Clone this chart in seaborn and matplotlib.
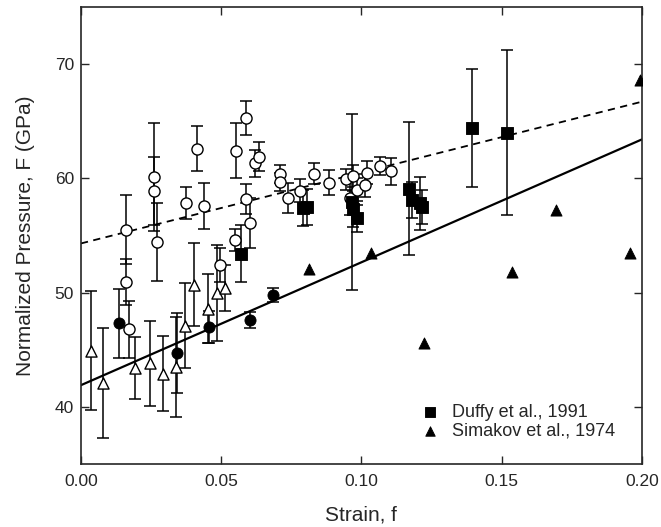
import matplotlib
matplotlib.use("Agg")
import matplotlib.pyplot as plt
import seaborn as sns
import pandas as pd

# Open circles (with error bars)
oc_x = [0.016, 0.016, 0.017, 0.026, 0.026, 0.027, 0.0375, 0.0415, 0.044, 0.0554, 0.059,
        0.062, 0.0636, 0.059, 0.0604, 0.055, 0.0496, 0.071, 0.071, 0.074, 0.078, 0.083,
        0.0886, 0.0946, 0.096, 0.097, 0.0986, 0.1014, 0.102, 0.1068, 0.1107]
oc_y = [55.5, 50.9, 46.8, 60.1, 58.9, 54.4, 57.8, 62.6, 57.6, 62.4, 65.3,
        61.3, 61.9, 58.2, 56.1, 54.6, 52.4, 60.4, 59.7, 58.3, 58.9, 60.4,
        59.6, 59.9, 58.3, 60.2, 59.0, 59.4, 60.5, 61.1, 60.6]
oc_err = [3.0, 2.0, 2.5, 4.7, 3.0, 3.4, 1.4, 2.0, 2.0, 2.4, 1.5,
          1.2, 1.3, 1.3, 2.2, 1.0, 1.5, 0.8, 0.8, 1.3, 1.0, 0.9,
          1.1, 0.9, 1.5, 1.0, 1.0, 1.0, 1.0, 0.8, 1.2]

# Filled circles (with error bars)
fc_x = [0.0136, 0.0343, 0.0457, 0.0604, 0.0686]
fc_y = [47.3, 44.7, 47.0, 47.6, 49.8]
fc_err = [3.0, 3.5, 1.4, 0.7, 0.6]

# Open triangles (with error bars)
ot_x = [0.0036, 0.008, 0.0193, 0.0246, 0.0294, 0.034, 0.037, 0.0404, 0.0454, 0.0485, 0.0514]
ot_y = [44.9, 42.1, 43.4, 43.8, 42.9, 43.5, 47.1, 50.7, 48.6, 50.0, 50.4]
ot_err = [5.2, 4.8, 2.7, 3.7, 3.3, 4.4, 3.7, 3.6, 3.0, 4.2, 2.0]

# Duffy et al., 1991 (filled squares)
fs_x = [0.0571, 0.079, 0.0807, 0.0965, 0.097, 0.0986, 0.1168, 0.118, 0.121, 0.1215, 0.1393, 0.152]
fs_y = [53.4, 57.4, 57.5, 57.9, 57.3, 56.5, 59.1, 58.1, 57.8, 57.5, 64.4, 64.0]
fs_err = [2.5, 1.6, 1.6, 7.7, 1.6, 1.2, 5.8, 1.6, 2.3, 1.5, 5.2, 7.2]

# Simakov et al., 1974 (filled triangles)
ft_x = [0.0814, 0.1036, 0.1225, 0.1536, 0.1693, 0.1957, 0.1993]
ft_y = [52.1, 53.5, 45.6, 51.8, 57.2, 53.5, 68.6]

# Fit lines
fit_x = [0.0, 0.2]
dashed_y = [54.3, 66.7]
solid_y = [41.9, 63.4]

sns.set_style("ticks")
plt.rcParams['font.family'] = ['Liberation Sans', 'DejaVu Sans']

fig = plt.figure(figsize=(6.61, 5.27), dpi=100)
ax = fig.add_axes([0.1225, 0.1195, 0.8485, 0.8675])

eb_kw = dict(fmt='none', ecolor='black', elinewidth=1.1, capsize=4, capthick=1.1, zorder=2)
ax.errorbar(oc_x, oc_y, yerr=oc_err, **eb_kw)
ax.errorbar(fc_x, fc_y, yerr=fc_err, **eb_kw)
ax.errorbar(ot_x, ot_y, yerr=ot_err, **eb_kw)
ax.errorbar(fs_x, fs_y, yerr=fs_err, **eb_kw)

sns.lineplot(x=fit_x, y=dashed_y, ax=ax, color='black', linewidth=1.3,
             linestyle=(0, (4, 3)), zorder=1)
sns.lineplot(x=fit_x, y=solid_y, ax=ax, color='black', linewidth=1.6, zorder=1)

sns.scatterplot(x=oc_x, y=oc_y, ax=ax, marker='o', s=64, facecolor='white',
                edgecolor='black', linewidth=1.0, zorder=3)
sns.scatterplot(x=fc_x, y=fc_y, ax=ax, marker='o', s=64, color='black',
                edgecolor='black', zorder=3)
sns.scatterplot(x=ot_x, y=ot_y, ax=ax, marker='^', s=64, facecolor='white',
                edgecolor='black', linewidth=1.0, zorder=3)
sns.scatterplot(x=fs_x, y=fs_y, ax=ax, marker='s', s=64, color='black',
                edgecolor='black', zorder=3, label='Duffy et al., 1991')
sns.scatterplot(x=ft_x, y=ft_y, ax=ax, marker='^', s=64, color='black',
                edgecolor='black', zorder=3, label='Simakov et al., 1974')

ax.set_xlim(0, 0.2)
ax.set_ylim(35, 75)
ax.set_xticks([0.0, 0.05, 0.10, 0.15, 0.20])
ax.set_xticklabels(['0.00', '0.05', '0.10', '0.15', '0.20'])
ax.set_yticks([40, 50, 60, 70])
ax.tick_params(direction='in', length=6, width=1, top=True, right=True,
               labelsize=12.5)
ax.tick_params(axis='y', pad=5)
ax.tick_params(axis='x', pad=7)
for s in ax.spines.values():
    s.set_linewidth(1.2)

ax.set_xlabel('Strain, f', fontsize=15, labelpad=12)
ax.set_ylabel('Normalized Pressure, F (GPa)', fontsize=15, labelpad=14)

leg = ax.legend(loc='lower left', bbox_to_anchor=(0.606, 0.053), frameon=False,
                fontsize=13, handlelength=1.0, handletextpad=0.7, labelspacing=0.1,
                borderaxespad=0, borderpad=0, markerscale=0.85)

fig.savefig('out.png', dpi=100)
